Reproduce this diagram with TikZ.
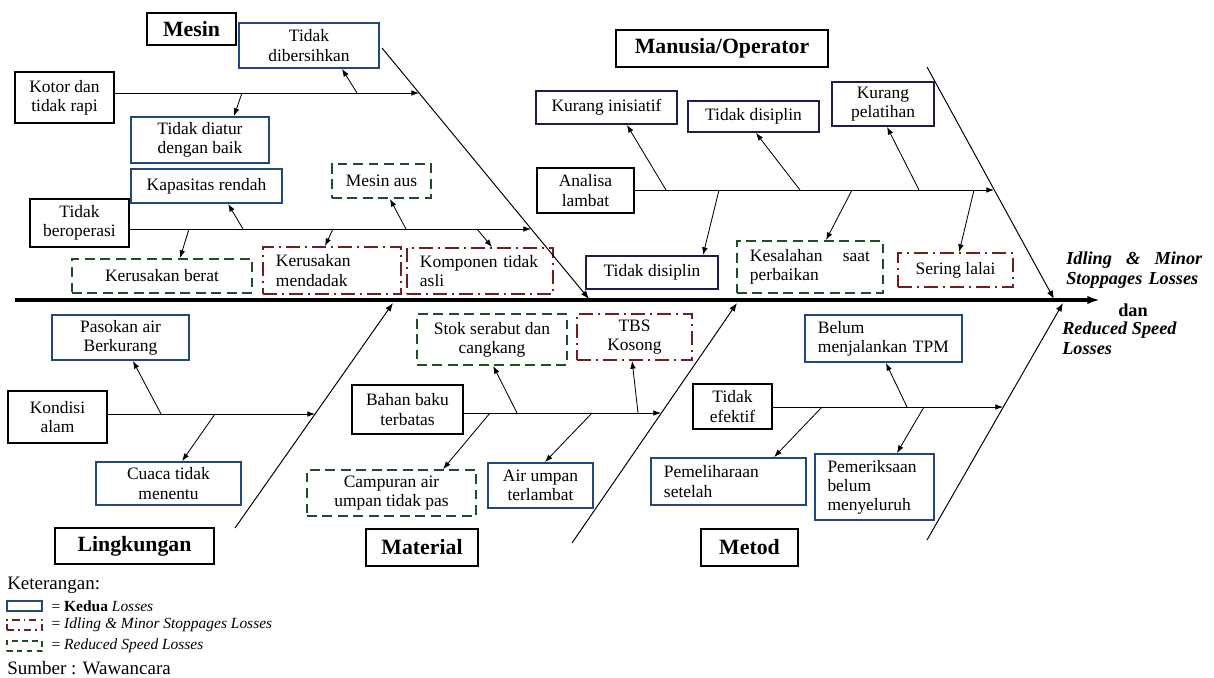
\documentclass[tikz,border=0pt]{standalone}
\usepackage{fontspec}
\setmainfont{Liberation Serif}
\usetikzlibrary{arrows.meta,calc}

\definecolor{kedBlue}{RGB}{31,73,125}
\definecolor{manNavy}{RGB}{25,30,75}
\definecolor{rsGreen}{RGB}{30,78,35}
\definecolor{imRed}{RGB}{112,30,30}

\begin{document}
\begin{tikzpicture}[x=0.025cm, y=-0.025cm,
  font=\fontsize{12.4}{13.6}\selectfont,
  box/.style={draw, line width=1.3pt, align=center, inner sep=2pt},
  causebox/.style={box, line width=0.9pt},
  kedua/.style={box, draw=kedBlue},
  manbox/.style={box, draw=manNavy},
  idle/.style={box, draw=imRed, dash pattern=on 10pt off 3.5pt on 1.5pt off 3.5pt},
  speed/.style={box, draw=rsGreen, dash pattern=on 7pt off 4pt},
  cat/.style={draw, line width=1.8pt, inner sep=2pt, font=\fontsize{15.5}{17}\selectfont\bfseries},
  lefttext/.style={align=left, text width=#1},
  bone/.style={line width=0.7pt, -{Latex[length=6pt,width=4.5pt]}},
  arr/.style={line width=0.6pt, -{Latex[length=5.5pt,width=4pt]}},
  spine/.style={line width=2.2pt, -{Latex[length=9pt,width=6pt]}},
  lossnote/.style={font=\fontsize{13}{14.2}\selectfont\bfseries\itshape},
  legnote/.style={anchor=west, font=\fontsize{11}{12}\selectfont}
]
\useasboundingbox (0,0) rectangle (1214,677);

% Mesin
\node[cat, minimum width=2.225cm, minimum height=0.8cm] (mesin) at (191.5,29) {Mesin};
\node[kedua, minimum width=3.5cm, minimum height=1.125cm] (dibersihkan) at (309,45.5) {Tidak\\dibersihkan};
\node[causebox, minimum width=2.475cm, minimum height=1.275cm] (kotor) at (64.5,97.5) {Kotor dan\\tidak rapi};
\node[kedua, minimum width=3.45cm, minimum height=1.15cm] (diatur) at (200,140) {Tidak diatur\\dengan baik};
\node[kedua, minimum width=3.775cm, minimum height=0.85cm] (kapasitas) at (206.5,186) {Kapasitas rendah};
\node[causebox, minimum width=2.475cm, minimum height=1.2cm] (beroperasi) at (79.5,223) {Tidak\\beroperasi};
\node[speed, minimum width=2.475cm, minimum height=0.85cm] (mesinAus) at (381.5,181) {Mesin aus};
\node[speed, minimum width=4.5cm, minimum height=0.85cm] (berat) at (162,276) {Kerusakan berat};
\node[idle, lefttext=2.8cm, minimum width=3.45cm, minimum height=1.175cm] (mendadak) at (332,270.5) {Kerusakan\\mendadak};
\node[idle, lefttext=3.0cm, minimum width=3.65cm, minimum height=1.15cm] (komponen) at (480,271) {Komponen tidak\\asli};

% Manusia/Operator
\node[cat, minimum width=5.3cm, minimum height=0.925cm] (manusia) at (722,48.5) {Manusia/Operator};
\node[manbox, minimum width=3.525cm, minimum height=0.825cm] (inisiatif) at (606.5,107.5) {Kurang inisiatif};
\node[manbox, minimum width=3.275cm, minimum height=0.775cm] (disiplinA) at (753.5,116.5) {Tidak disiplin};
\node[manbox, minimum width=2.55cm, minimum height=1.1cm] (pelatihan) at (883,104) {Kurang\\pelatihan};
\node[causebox, minimum width=2.425cm, minimum height=1.125cm] (analisa) at (585.5,190.5) {Analisa\\lambat};
\node[manbox, minimum width=3.3cm, minimum height=0.825cm] (disiplinB) at (652,272.5) {Tidak disiplin};
\node[speed, lefttext=3.0cm, minimum width=3.65cm, minimum height=1.3cm] (kesalahan) at (810,267) {Kesalahan\hfill saat\\perbaikan};
\node[idle, minimum width=2.875cm, minimum height=0.85cm] (lalai) at (955.5,270) {Sering lalai};

% Lingkungan
\node[kedua, minimum width=3.425cm, minimum height=1.125cm] (pasokan) at (120.5,337.5) {Pasokan air\\Berkurang};
\node[causebox, minimum width=2.475cm, minimum height=1.3cm] (kondisi) at (57.5,417) {Kondisi\\alam};
\node[kedua, minimum width=3.625cm, minimum height=1.075cm] (cuaca) at (168.5,483.5) {Cuaca tidak\\menentu};
\node[cat, minimum width=3.975cm, minimum height=0.9cm] (lingkungan) at (134.5,546) {Lingkungan};

% Material
\node[causebox, minimum width=2.775cm, minimum height=1.225cm] (bahan) at (407.5,409.5) {Bahan baku\\terbatas};
\node[speed, minimum width=3.75cm, minimum height=1.275cm] (stok) at (492,339.5) {Stok serabut dan\\cangkang};
\node[idle, minimum width=2.875cm, minimum height=1.15cm] (tbs) at (634.5,337) {TBS\\Kosong};
\node[speed, minimum width=4.225cm, minimum height=1.15cm] (campuran) at (391.5,493) {Campuran air\\umpan tidak pas};
\node[kedua, minimum width=2.625cm, minimum height=1.125cm] (airUmpan) at (540.5,485.5) {Air umpan\\terlambat};
\node[cat, minimum width=2.8cm, minimum height=0.925cm] (material) at (422,547.5) {Material};

% Metod
\node[causebox, minimum width=1.975cm, minimum height=1.125cm] (efektif) at (732.5,406.5) {Tidak\\efektif};
\node[kedua, lefttext=3.275cm, minimum width=3.925cm, minimum height=1.175cm] (tpm) at (883.5,338.5) {Belum\\menjalankan TPM};
\node[kedua, lefttext=3.225cm, minimum width=3.875cm, minimum height=1.175cm] (pemeliharaan) at (728.5,481.5) {Pemeliharaan\\setelah};
\node[kedua, lefttext=2.35cm, minimum width=2.975cm, minimum height=1.65cm] (pemeriksaan) at (874.5,487) {Pemeriksaan\\belum\\menyeluruh};
\node[cat, minimum width=2.425cm, minimum height=0.925cm] (metod) at (749.5,547.5) {Metod};

% spine and bones
\coordinate (spineStart) at (15,300);
\coordinate (spineEnd) at (1100,300);
\coordinate (mesinTop) at (382,48);
\coordinate (mesinEnd) at (589,299);
\coordinate (manTop) at (927,67);
\coordinate (manEnd) at (1054,299);
\coordinate (linBot) at (235,528);
\coordinate (linTop) at (393,303);
\coordinate (matBot) at (572,543);
\coordinate (matTop) at (737,303);
\coordinate (metBot) at (927,540);
\coordinate (metTop) at (1063,303);

\draw[spine] (spineStart) -- (spineEnd);
\draw[bone] (mesinTop) -- (mesinEnd);
\draw[bone] (manTop) -- (manEnd);
\draw[bone] (linBot) -- (linTop);
\draw[bone] (matBot) -- (matTop);
\draw[bone] (metBot) -- (metTop);

% branches
\coordinate (kotorEnd) at (419,93);
\coordinate (operasiEnd) at (531,229);
\coordinate (analisaEnd) at (994,190);
\coordinate (kondisiEnd) at (315,414);
\coordinate (bahanEnd) at (661,413);
\coordinate (efektifEnd) at (1003,407);

\draw[arr] (kotor.east |- kotorEnd) -- (kotorEnd);
\draw[arr] (beroperasi.east |- operasiEnd) -- (operasiEnd);
\draw[arr] (analisa.east |- analisaEnd) -- (analisaEnd);
\draw[arr] (kondisi.east |- kondisiEnd) -- (kondisiEnd);
\draw[arr] (bahan.east |- bahanEnd) -- (bahanEnd);
\draw[arr] (efektif.east |- efektifEnd) -- (efektifEnd);

% sub causes
\coordinate (k1) at (357,93);
\coordinate (k2) at (242,93);
\coordinate (o1) at (243,229);
\coordinate (o2) at (189,229);
\coordinate (o3) at (406,229);
\coordinate (o4) at (333,229);
\coordinate (o5) at (477,229);
\draw[arr] (k1) -- ([xshift=0.825cm]dibersihkan.south);
\draw[arr] (k2) -- ([xshift=0.85cm]diatur.north);
\draw[arr] (o1) -- ([xshift=0.54cm]kapasitas.south);
\draw[arr] (o2) -- ([xshift=0.45cm]berat.north);
\draw[arr] (o3) -- ([xshift=0.21cm]mesinAus.south);
\draw[arr] (o4) -- ([xshift=-0.175cm]mendadak.north);
\draw[arr] (o5) -- ([xshift=0.3cm]komponen.north);

\coordinate (a1) at (666,190);
\coordinate (a2) at (800,190);
\coordinate (a3) at (919,190);
\coordinate (a4) at (719,190);
\coordinate (a5) at (852,190);
\coordinate (a6) at (974,190);
\draw[arr] (a1) -- ([xshift=0.51cm]inisiatif.south);
\draw[arr] (a2) -- ([xshift=0.06cm]disiplinA.south);
\draw[arr] (a3) -- ([xshift=0.1cm]pelatihan.south);
\draw[arr] (a4) -- ([xshift=1.275cm]disiplinB.north);
\draw[arr] (a5) -- ([xshift=0.4cm]kesalahan.north);
\draw[arr] (a6) -- ([xshift=0.09cm]lalai.north);

\coordinate (c1) at (161,414);
\coordinate (c2) at (215,414);
\draw[arr] (c1) -- ([xshift=0.31cm]pasokan.south);
\draw[arr] (c2) -- ([xshift=0.34cm]cuaca.north);

\coordinate (b1) at (517,413);
\coordinate (b2) at (490,413);
\coordinate (b3) at (638,413);
\coordinate (b4) at (592,413);
\draw[arr] (b1) -- ([xshift=0.03cm]stok.south);
\draw[arr] (b2) -- ([xshift=1.29cm]campuran.north);
\draw[arr] (b3) -- ([xshift=-0.06cm]tbs.south);
\draw[arr] (b4) -- ([xshift=0.11cm]airUmpan.north);

\coordinate (e1) at (907,407);
\coordinate (e2) at (822,407);
\coordinate (e3) at (924,407);
\draw[arr] (e1) -- ([xshift=0.06cm]tpm.south);
\draw[arr] (e2) -- ([xshift=1.14cm]pemeliharaan.north);
\draw[arr] (e3) -- ([xshift=0.56cm]pemeriksaan.north);

% effect
\node[lossnote, anchor=west, align=left, text width=3.4cm, inner sep=0pt] (idleLbl) at (1066,270) {Idling\hfill\&\hfill Minor\\Stoppages Losses};
\node[font=\fontsize{13}{14.2}\selectfont\bfseries, inner sep=0pt] (danLbl) at (1133,310) {dan};
\node[lossnote, anchor=west, align=left, inner sep=0pt] (speedLbl) at (1062,338) {Reduced Speed\\Losses};

% legend
\node[anchor=west, font=\fontsize{13.5}{15}\selectfont, inner sep=0pt] (ketLbl) at (7,585) {Keterangan:};
\node[box, draw=kedBlue, line width=0.9pt, minimum width=0.875cm, minimum height=0.25cm, inner sep=0pt] (legKedua) at (24.5,606) {};
\node[box, draw=imRed, line width=0.9pt, dash pattern=on 5pt off 3pt on 1pt off 3pt, minimum width=0.875cm, minimum height=0.25cm, inner sep=0pt] (legIdle) at (24.5,625) {};
\node[box, draw=rsGreen, line width=0.9pt, dash pattern=on 4pt off 3pt, minimum width=0.875cm, minimum height=0.25cm, inner sep=0pt] (legSpeed) at (24.5,646) {};
\node[legnote] at ([xshift=0.1cm]legKedua.east) {= \textbf{Kedua} \textit{Losses}};
\node[legnote] at ([xshift=0.1cm]legIdle.east) {= \textit{Idling \& Minor Stoppages Losses}};
\node[legnote] at ([xshift=0.1cm]legSpeed.east) {= \textit{Reduced Speed Losses}};
\node[anchor=west, font=\fontsize{13.5}{15}\selectfont, inner sep=0pt] (sumberLbl) at (7,668) {Sumber : Wawancara};

\end{tikzpicture}
\end{document}
